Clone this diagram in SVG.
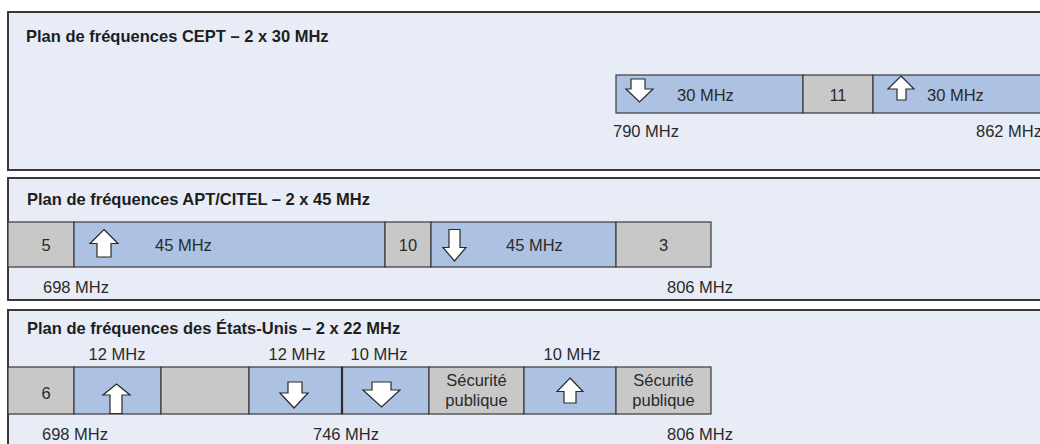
<svg xmlns="http://www.w3.org/2000/svg" width="1040" height="444" viewBox="0 0 1040 444">
<style>
.panel{fill:#e8ecf6;stroke:#3a3a3a;stroke-width:2}
.blue{fill:#adc1e3;stroke:#3a3a3a;stroke-width:1.2}
.gray{fill:#c8c8c8;stroke:#3a3a3a;stroke-width:1.2}
.arr{fill:#ffffff;stroke:#2a2a2a;stroke-width:1.2;stroke-linejoin:miter}
.t{font-family:"Liberation Sans",Arial,sans-serif;font-size:16.5px;fill:#2a2a2a}
.m{text-anchor:middle}
.h{font-family:"Liberation Sans",Arial,sans-serif;font-size:16.5px;font-weight:bold;fill:#1e1e1e}
</style>
<rect width="1040" height="444" fill="#ffffff"/>

<g id="cept">
<rect class="panel" x="8" y="12" width="1045" height="158"/>
<text class="h" x="26" y="42">Plan de fréquences CEPT – 2 x 30 MHz</text>
<g id="cept-down">
<rect class="blue" x="616" y="75" width="187" height="38"/>
<path class="arr" d="M631,79 H645 V89 H653 L639.5,102 L626,89 H631 Z"/>
<text class="t" x="677" y="101">30 MHz</text>
</g>
<g id="cept-gap">
<rect class="gray" x="803" y="75" width="70" height="38"/>
<text class="t m" x="838" y="101">11</text>
</g>
<g id="cept-up">
<rect class="blue" x="873" y="75" width="180" height="38"/>
<path class="arr" d="M901,76 L914,89 H906 V100 H897 V89 H888 Z"/>
<text class="t" x="927" y="101">30 MHz</text>
</g>
<text class="t" x="613" y="137">790 MHz</text>
<text class="t" x="976" y="137">862 MHz</text>
</g>

<g id="apt">
<rect class="panel" x="8" y="178" width="1045" height="122"/>
<text class="h" x="27" y="205">Plan de fréquences APT/CITEL – 2 x 45 MHz</text>
<g id="apt-g1">
<rect class="gray" x="8" y="222" width="66" height="45"/>
<text class="t m" x="46" y="251">5</text>
</g>
<g id="apt-up">
<rect class="blue" x="74" y="222" width="311" height="45"/>
<path class="arr" d="M104,229.5 L118,243.5 H111 V257 H97 V243.5 H90 Z"/>
<text class="t" x="155" y="251">45 MHz</text>
</g>
<g id="apt-g2">
<rect class="gray" x="385" y="222" width="46" height="45"/>
<text class="t m" x="408" y="251">10</text>
</g>
<g id="apt-down">
<rect class="blue" x="431" y="222" width="185" height="45"/>
<path class="arr" d="M449,229.5 H460 V247.5 H466 L454.5,261 L443,247.5 H449 Z"/>
<text class="t" x="506" y="251">45 MHz</text>
</g>
<g id="apt-g3">
<rect class="gray" x="616" y="222" width="95" height="45"/>
<text class="t m" x="663.5" y="251">3</text>
</g>
<text class="t" x="43" y="293">698 MHz</text>
<text class="t" x="667" y="293">806 MHz</text>
</g>

<g id="usa">
<rect class="panel" x="8" y="310" width="1045" height="150"/>
<text class="h" x="27" y="334">Plan de fréquences des États-Unis – 2 x 22 MHz</text>
<text class="t m" x="117" y="360">12 MHz</text>
<text class="t m" x="297" y="360">12 MHz</text>
<text class="t m" x="379" y="360">10 MHz</text>
<text class="t m" x="572" y="360">10 MHz</text>
<g id="usa-g1">
<rect class="gray" x="8" y="367" width="66" height="47"/>
<text class="t m" x="46" y="399">6</text>
</g>
<g id="usa-up1">
<rect class="blue" x="74" y="367" width="87" height="47"/>
<path class="arr" d="M116.5,384 L130,395 H122 V413.5 H110 V395 H103 Z"/>
</g>
<g id="usa-g2">
<rect class="gray" x="161" y="367" width="88" height="47"/>
</g>
<g id="usa-down1">
<rect class="blue" x="249" y="367" width="93" height="47"/>
<path class="arr" d="M288,382 H302 V393 H308 L294,408 L280,393 H288 Z"/>
</g>
<g id="usa-down2">
<rect class="blue" x="342" y="367" width="87" height="47"/>
<path class="arr" d="M372,382 H391 V390 H400 L381.5,407 L363,390 H372 Z"/>
</g>
<line x1="342" y1="367" x2="342" y2="414" stroke="#2a2a2a" stroke-width="2.2"/>
<g id="usa-safety1">
<rect class="gray" x="429" y="367" width="95" height="47"/>
<text class="t m" x="476.5" y="386">Sécurité</text>
<text class="t m" x="476.5" y="406">publique</text>
</g>
<g id="usa-up2">
<rect class="blue" x="524" y="367" width="92" height="47"/>
<path class="arr" d="M570,378 L583,391.5 H576 V403 H564 V391.5 H557 Z"/>
</g>
<g id="usa-safety2">
<rect class="gray" x="616" y="367" width="95" height="47"/>
<text class="t m" x="663.5" y="386">Sécurité</text>
<text class="t m" x="663.5" y="406">publique</text>
</g>
<text class="t" x="42" y="440">698 MHz</text>
<text class="t" x="313" y="440">746 MHz</text>
<text class="t" x="667" y="440">806 MHz</text>
</g>
<g id="connectors"/>
</svg>
